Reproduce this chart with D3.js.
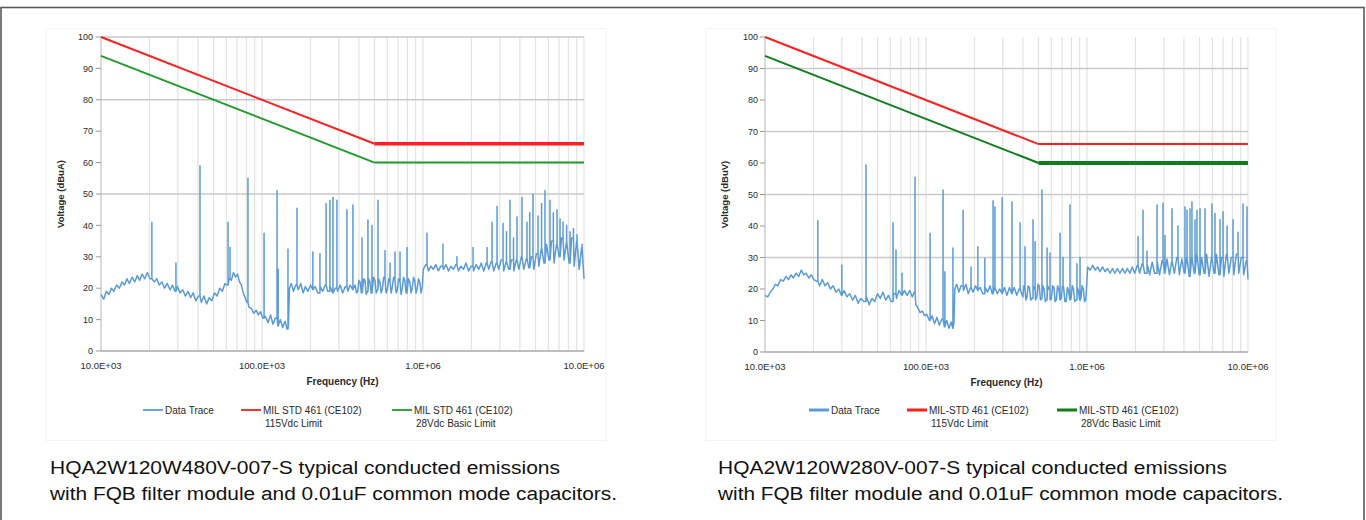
<!DOCTYPE html>
<html><head><meta charset="utf-8">
<script src="https://cdn.jsdelivr.net/npm/d3@7"></script>
<style>
html,body{margin:0;padding:0;background:#fff;}
svg{display:block;font-family:"Liberation Sans",Arial,sans-serif;}
</style></head>
<body>
<svg id="c" width="1366" height="520"></svg>
<script>
// ---------------- DATA ----------------
const freqTicks = [10, 100, 1000, 10000]; // kHz
const freqTickLabels = ["10.0E+03", "100.0E+03", "1.0E+06", "10.0E+06"];
const levelTicks = [0, 10, 20, 30, 40, 50, 60, 70, 80, 90, 100];
const limitFreqs = [10, 500, 10000];          // kHz
const limit115 = [100, 66, 66];               // dB
const limit28 = [94, 60, 60];                 // dB
const leftGridLevels = [50, 80, 100];
const rightGridLevels = [30, 50, 70, 90];
const leftYTitle = "Voltage (dBuA)";
const rightYTitle = "Voltage (dBuV)";
const xTitle = "Frequency (Hz)";
const leftLegend = [["Data Trace"], ["MIL STD 461 (CE102)", "115Vdc Limit"], ["MIL STD 461 (CE102)", "28Vdc Basic Limit"]];
const rightLegend = [["Data Trace"], ["MIL-STD 461 (CE102)", "115Vdc Limit"], ["MIL-STD 461 (CE102)", "28Vdc Basic Limit"]];
const leftCaption = ["HQA2W120W480V-007-S typical conducted emissions", "with FQB filter module and 0.01uF common mode capacitors."];
const rightCaption = ["HQA2W120W280V-007-S typical conducted emissions", "with FQB filter module and 0.01uF common mode capacitors."];

// trace baseline [kHz, dB]
const leftBase = [[10,18],[10.4,16.5],[10.8,19],[11.2,18],[11.6,20],[12,19],[12.5,21],[13,20],[13.5,22],[14,21],[14.5,23],[15,21.5],[15.6,23.5],[16.2,22],[16.8,24],[17.4,22.5],[18,24.5],[18.7,23],[19.4,25],[20.1,23],
[21.4,22],[22.2,23],[23,21],[23.9,22],[24.8,20],[25.8,21.5],[26.8,19.5],[27.8,21],[28.8,19],[29.8,20.5],[31,18.5],[32.2,19.5],[33.4,17.5],[34.7,19],[36,17],[37.4,18.5],[38.8,16],[40.3,17.5],
[42,15.5],[43.6,17.5],[45.3,15],[47,17],[48.8,16],[50.7,18.5],[52.6,17.5],[54.6,20],[56.7,19],[58.9,21.5],[60.4,21],[62.5,23],[64.5,22.5],[66.5,25],[68.5,23.5],[70.5,24.5],[72.5,22],[74.5,21],[76.5,18.5],[78.5,17],[80.5,15.5],[83,14],[86,13.5],[89,12],[92,13],[95,11.5],[98,12.5],[101,10.5],
[105,11],[109,9],[113,11.5],[117,8.5],[121,10.5],[125.5,8],[130,10],[134.5,7.5],[139,9.5],[143,7],[146,8.5],
[148,20],[152,21.5],[157,19],[162,21],[168,19.5],[174,21.5],[180,18.5],[186,20.5],[193,19],[200,21],[207,19.5],[214,20.5],[222,18.5],[230,20.5],[238,19],[247,21],[256,19],[265,20.5],[275,18.5],[285,20],[295,19],[306,21],[317,18.5],[329,20.5],[341,19],[353,21],[366,19.5],[379,21],[386,18.5],[393,19],[400,22.5],[407,22],[414,18.5],[421,19.5],[428,23],[436,22.5],[444,18],[452,19],[460,23],[468,22],[476,18.5],[485,20],[494,23.5],[503,22.5],[512,18.5],[521,19.5],[530,23],[540,22],[550,18.5],[560,20],[570,23.5],[580,23],[590,18.5],[601,19.5],[612,23],[623,22],[634,18.5],[645,20.5],[657,23.5],[669,22.5],[681,18.5],[693,19.5],[705,23],[718,22],[731,18],[744,20],[757,23.5],[771,22.5],[785,18.5],[799,19.5],[813,23],[828,22],[843,18.5],[858,20],[873,23.5],[889,22.5],[905,18.5],[921,20],[938,23],[955,22],[972,18.5],[990,20.5],
[1005,26],[1040,27.5],[1080,25.5],[1120,27],[1160,26],[1200,27.5],[1245,25.5],[1290,27],[1340,26],[1390,27.5],[1440,25.5],[1490,27],[1545,26],[1600,27.5],[1660,25.5],[1720,27],[1785,26],[1850,28],[1920,25.5],[1990,27],[2060,25.5],[2140,27.5],[2220,26],[2300,28],[2385,25.5],[2470,28],[2560,26],[2650,28.5],[2750,25.5],[2850,28],[2955,26],[3060,29],[3175,25.5],[3290,28.5],[3410,26],[3535,29],[3665,25.5],[3800,29],[3940,26],[4080,30],[4230,26],[4385,29.5],[4545,26.5],[4710,30],[4880,26],[5060,31],[5245,27],[5440,33],[5640,28],[5845,34],[6060,29],[6280,35],[6510,28],[6750,34],[7000,30],[7255,36],[7520,29],[7800,35],[8080,28],[8380,36],[8690,27],[9000,35],[9330,26],[9670,33],[10000,23]];
const leftSpikes = [[20.7,41],[29.2,28],[41.2,59],[61.5,41],[63.3,33],[81.8,55],[103,37.5],[124,51],[126,26],[145,32.5],[165,45.5],[207,31.5],[229,31],[250,47],[264,48],[276,49],[292,48],[337,45],[367,46.5],[418,36],[455,41.7],[482,40],[525,48],[581,32],[624,28],[670,31.5],[720,31.5],[796,33],[1059,37.5],[1330,34],[1625,30],[2046,33],[2500,33],[2685,41],[2884,46],[3141,40.7],[3300,38],[3470,48],[3650,36],[3835,42.7],[4120,49],[4425,41],[4600,44],[4822,50],[5180,43],[5450,47],[5725,51],[6150,48],[6450,44],[6800,45],[7100,42],[7413,41],[7800,40],[8190,38],[8600,39],[9050,37],[9730,34]];

const rightBase = [[10,18],[10.4,17.5],[10.8,19],[11.2,20],[11.6,21.5],[12,21],[12.5,23],[13,22.5],[13.5,24],[14,23],[14.5,24.5],[15,23.5],[15.6,25],[16.2,24],[16.8,26],[17.4,24.5],[18,25],[18.7,23.5],[19.4,24.5],[20.1,23],
[20.9,22.5],[21.8,21],[22.7,23],[23.6,21],[24.5,22],[25.5,20],[26.5,21],[27.6,19],[28.7,20],[29.8,18],[31,19.5],[32.3,17.5],[33.6,18.5],[35,16.5],[36.4,18],[37.9,15.5],[39.4,17],
[41,16],[42.7,17.5],[44.4,15],[46.2,17],[48,16],[50,18.5],[52,17],[54,19],[56.2,16.5],[58.4,18],[60.7,16],[63,18.5],[65.5,17],[68,19.5],[70.7,18],[73.5,19.5],[76.3,18],[79.2,19.5],[82.3,17.5],[84.5,19],[86.5,15],[89,14],[92,12.5],[95,13],[98,11.5],[101,12],
[105,10],[109,11.5],[113,9],[117,11],[121,8.5],[125.5,10.5],[130,8],[134.5,10],[139,7.5],[143,9.5],[147,7.5],[149,9],
[151,20],[155,21.5],[160,19],[165,21],[171,19.5],[177,21.5],[183,18.5],[189,20.5],[196,19],[203,21],[210,19.5],[217,20.5],[225,18.5],[233,20.5],[241,19],[250,21],[258,18.5],[267,20.5],[277,18.5],[287,20],[297,18.5],[307,20.5],[318,18],[330,20.5],[341,18.5],[353,20.5],[366,18],[379,20],[393,18.5],[400,17.5],[405,21],[410,20],[417,16.5],[424,17.5],[431,21],[439,20.5],[447,16.5],[455,17],[463,21],[471,20],[479,16.5],[488,17.5],[496,21.5],[505,21],[514,16.5],[523,17],[532,21],[541,20],[551,16],[561,16.5],[570,21],[580,20],[590,16.5],[601,17],[612,21],[623,20.5],[634,16],[645,16.5],[656,21],[668,20],[680,16.5],[692,17],[704,21],[716,20.5],[729,16],[742,16],[755,20.5],[768,19.5],[782,16.5],[796,17],[810,21],[824,20],[839,16],[854,16.5],[869,20.5],[884,19.5],[900,16.5],[916,17],[932,21],[949,20],[966,16],[983,16.5],
[1010,27],[1045,26],[1085,27.5],[1125,26],[1165,27],[1205,25.5],[1250,27],[1295,25.5],[1340,26.5],[1390,25],[1440,26.5],[1490,25],[1545,26.5],[1600,25],[1660,26.5],[1720,25],[1780,26.5],[1845,25],[1910,27],[1980,25],[2050,27.5],[2125,25],[2200,28],[2280,25],[2365,28],[2450,24.5],[2540,28.5],[2630,25],[2725,29],[2820,24.5],[2925,29],[3030,25],[3140,29.5],[3250,24.5],[3370,29],[3490,25],[3615,30],[3745,24.5],[3880,29.5],[4020,25],[4165,30],[4315,24],[4470,30],[4630,25],[4800,31],[4970,24.5],[5150,30],[5335,25],[5530,31],[5730,24],[5935,30],[6150,25],[6370,31],[6600,24.5],[6840,30],[7085,24],[7340,31],[7605,25],[7880,30],[8160,24.5],[8455,31],[8760,25],[9075,30],[9400,24.5],[9740,29],[10000,23]];
const rightSpikes = [[21.3,41.7],[30,27.6],[42.4,59.4],[62.4,41],[65.1,32.4],[71,25],[85.5,55.5],[106,37.7],[127.6,51.4],[131,25.5],[147,33],[170,45],[190.5,27],[210,33.4],[232,29.8],[261,48],[268,46],[297,49],[342,47.7],[384,41],[412,33.4],[462,42],[476,35],[525,51.4],[565,33],[589,31.4],[680,37.7],[710,30],[784,46.7],[866,28],[905,30],[2075,36.6],[2228,45],[2360,32],[2722,46.7],[2966,47.3],[3050,37],[3373,45.5],[3673,40],[4060,46],[4180,45],[4363,45.5],[4487,47.7],[4688,42],[4822,45],[5035,45.5],[5410,45.5],[5970,47],[6237,44],[6700,42],[6998,44.5],[7413,40],[8072,42],[8670,38],[9311,47],[9862,46]];

// ---------------- STYLE ----------------
const C = {trace:"#5b9bd5", red:"#ff1f1f", green:"#1f9a2a", greenDark:"#0e7d1c", grid:"#c9c9c9", minor:"#e3e3e3", text:"#2a2a2a"};

const svg = d3.select("#c");
svg.append("rect").attr("x",1).attr("y",7.5).attr("width",1363).attr("height",530)
  .attr("fill","none").attr("stroke","#5a5a5a").attr("stroke-width",1.6);

function drawChart(o){
  const g = svg.append("g");
  const x = d3.scaleLog().domain([10,10000]).range([o.x0,o.x1]);
  const y = d3.scaleLinear().domain([0,100]).range([o.y0,o.y1]);
  g.append("rect").attr("x",o.bx).attr("y",28.5).attr("width",o.bw).attr("height",412)
    .attr("fill","none").attr("stroke","#f4f4f4").attr("stroke-width",1);
  g.selectAll(".vg").data(x.ticks()).enter().append("line")
    .attr("x1",d=>x(d)).attr("x2",d=>x(d)).attr("y1",y(100)).attr("y2",y(0))
    .attr("stroke",C.minor).attr("stroke-width",1.2);
  g.selectAll(".hg").data(o.grid).enter().append("line")
    .attr("x1",o.x0).attr("x2",o.x1).attr("y1",d=>y(d)).attr("y2",d=>y(d))
    .attr("stroke",C.grid).attr("stroke-width",1.4);
  g.append("line").attr("x1",o.x0).attr("x2",o.x0).attr("y1",y(100)).attr("y2",y(0))
    .attr("stroke","#cfcfcf").attr("stroke-width",1.2);
  g.append("line").attr("x1",o.x0).attr("x2",o.x1).attr("y1",y(0)).attr("y2",y(0))
    .attr("stroke","#a8a8a8").attr("stroke-width",1.6);
  g.selectAll(".yt").data(levelTicks).enter().append("line")
    .attr("x1",o.x0-5).attr("x2",o.x0).attr("y1",d=>y(d)).attr("y2",d=>y(d))
    .attr("stroke","#999").attr("stroke-width",1);
  g.selectAll(".yl").data(levelTicks).enter().append("text")
    .attr("x",o.x0-o.lblOff).attr("y",d=>y(d)+3.2).attr("text-anchor","end")
    .attr("font-size",9).attr("fill",C.text).text(d=>d);
  g.selectAll(".xl").data(freqTicks).enter().append("text")
    .attr("x",d=>x(d)).attr("y",y(0)+18).attr("text-anchor","middle")
    .attr("font-size",9.5).attr("fill",C.text).text((d,i)=>freqTickLabels[i]);
  g.append("text").attr("x",(o.x0+o.x1)/2).attr("y",y(0)+34).attr("text-anchor","middle")
    .attr("font-size",10).attr("font-weight","bold").attr("fill",C.text).text(xTitle);
  g.append("text").attr("transform",`translate(${o.x0-37},${(y(0)+y(100))/2}) rotate(-90)`)
    .attr("text-anchor","middle").attr("font-size",9.5).attr("font-weight","bold").attr("fill",C.text).text(o.ytitle);
  // trace: baseline with vertical spikes
  const all = o.base.map(d=>({f:d[0],v:d[1],s:false})).concat(o.spikes.map(d=>({f:d[0],v:d[1],s:true})))
    .sort((a,b)=>a.f-b.f);
  const pts=[]; let last=o.base[0][1];
  all.forEach(p=>{
    if(p.s){ pts.push([p.f,last],[p.f,p.v],[p.f,last]); }
    else { pts.push([p.f,p.v]); last=p.v; }
  });
  const line = d3.line().x(d=>x(d[0])).y(d=>y(d[1]));
  g.append("path").datum(pts).attr("d",line).attr("fill","none")
    .attr("stroke",C.trace).attr("stroke-width",1.5).attr("stroke-linejoin","round");
  // limits: sloped part and flat part
  const lim = vals => limitFreqs.map((f,i)=>[f,vals[i]]);
  const drawLim=(vals,col,wS,wF)=>{
    const p=lim(vals);
    g.append("path").datum(p.slice(0,2)).attr("d",line).attr("fill","none").attr("stroke",col).attr("stroke-width",wS);
    g.append("path").datum(p.slice(1)).attr("d",line).attr("fill","none").attr("stroke",col).attr("stroke-width",wF);
  };
  drawLim(limit115,C.red,o.redS,o.redF);
  drawLim(limit28,o.greenCol,o.greenS,o.greenF);
  const cols=[C.trace,C.red,o.greenCol];
  o.legend.forEach((lab,i)=>{
    const lx=o.legX[i];
    g.append("line").attr("x1",lx).attr("x2",lx+20).attr("y1",o.legY).attr("y2",o.legY)
      .attr("stroke",cols[i]).attr("stroke-width",o.legW);
    lab.forEach((t,j)=>{
      g.append("text").attr("x",lx+22+(j?2:0)).attr("y",o.legY+3.5+j*13)
        .attr("font-size",10).attr("fill",C.text).text(t);
    });
  });
  o.caption.forEach((t,j)=>{
    g.append("text").attr("x",o.capX).attr("y",474+j*26).attr("font-size",18)
      .attr("textLength",o.capW[j]).attr("lengthAdjust","spacingAndGlyphs")
      .attr("fill","#111").text(t);
  });
}

drawChart({x0:101,x1:584,y0:351,y1:37,bx:46,bw:560,grid:leftGridLevels,lblOff:8,ytitle:leftYTitle,
  base:leftBase,spikes:leftSpikes,redS:2,redF:3.5,greenS:1.8,greenF:2,greenCol:C.green,legend:leftLegend,legX:[143,241,392],legY:410,legW:1.8,
  caption:leftCaption,capX:50,capW:[510,567]});
drawChart({x0:765,x1:1248,y0:352,y1:37,bx:706,bw:570,grid:rightGridLevels,lblOff:7,ytitle:rightYTitle,
  base:rightBase,spikes:rightSpikes,redS:2,redF:2,greenS:2,greenF:3.8,greenCol:C.greenDark,legend:rightLegend,legX:[809,907,1057],legY:410,legW:3,
  caption:rightCaption,capX:718,capW:[509,565]});
</script>
</body></html>
